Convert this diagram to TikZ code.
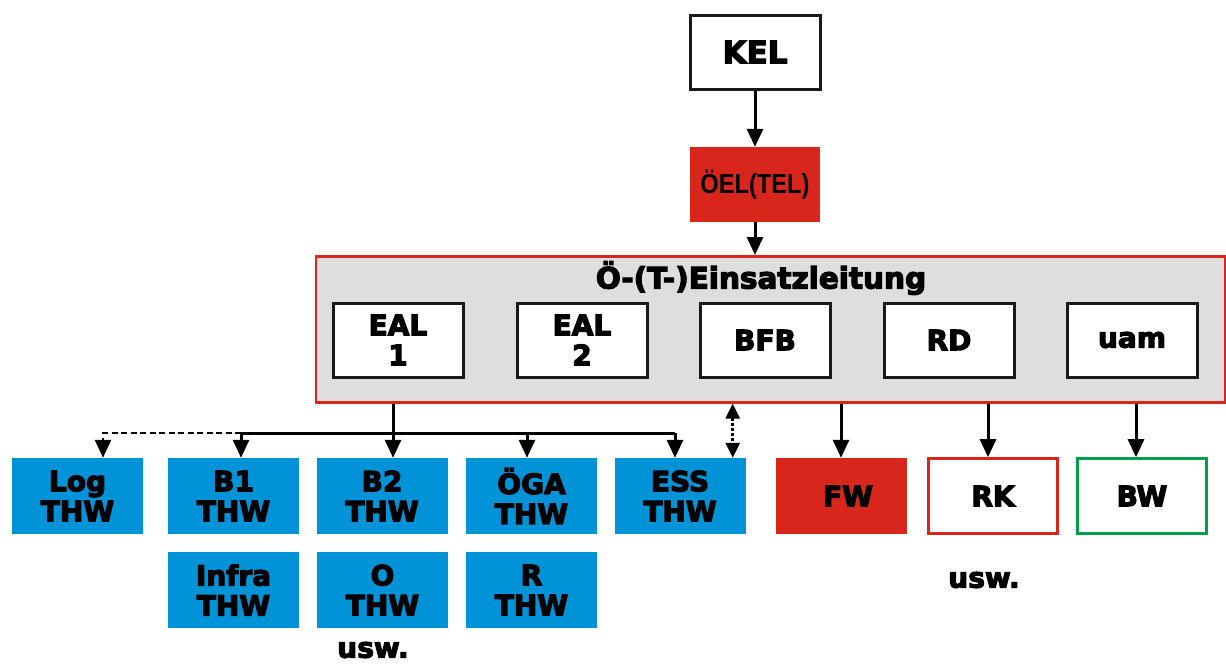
\documentclass[tikz,border=0pt]{standalone}
\usepackage{fontspec}
\setmainfont{Liberation Sans}
\newfontfamily\heavy{DejaVu Sans}[BoldFeatures={FakeBold=4}]
\newfontfamily\narrow{Liberation Sans}[BoldFeatures={FakeStretch=0.86}]
\usetikzlibrary{arrows.meta}

\definecolor{thwblue}{HTML}{0093D8}
\definecolor{alarmred}{HTML}{D9261C}
\definecolor{leitgray}{HTML}{DEDEDE}
\definecolor{bwgreen}{HTML}{00A04A}

\tikzset{
  label font/.style={font=\heavy\bfseries\fontsize{28}{30}\selectfont},
  unitbox/.style={draw=black!90, line width=3pt, fill=white, minimum width=130pt, minimum height=74pt, align=center, label font},
  thwbox/.style={fill=thwblue, minimum width=131pt, minimum height=76pt, align=center, label font},
  arr/.style={line width=3pt, -{Triangle[width=16pt,length=18pt]}},
  dotarr/.style={line width=2.6pt, {Triangle[width=14pt,length=15pt]}-{Triangle[width=14pt,length=15pt]}, dash pattern=on 2.6pt off 2.4pt},
}

\begin{document}
\begin{tikzpicture}[x=1pt,y=-1pt]
\useasboundingbox (0,0) rectangle (1226,664);

% top of the chain
\node[unitbox, font=\heavy\bfseries\fontsize{31}{34}\selectfont] (kel) at (755,52) {KEL};
\node[fill=alarmred, minimum width=130pt, minimum height=75pt, font=\narrow\bfseries\fontsize{27.5}{28}\selectfont] (oel) at (755,184.5) {ÖEL(TEL)};

% operations command frame
\node[draw=alarmred, fill=leitgray, line width=2.6pt, minimum width=909pt, minimum height=146pt, anchor=north west] (leit) at (314.5,255) {};
\node[font=\heavy\bfseries\fontsize{29.5}{30}\selectfont] (title) at (761,278) {Ö-(T-)Einsatzleitung};

\foreach \x/\n/\t in {398/eal1/EAL\\1, 582/eal2/EAL\\2, 765/bfb/BFB, 949/rd/RD, 1132/uam/uam}
  \node[unitbox] (\n) at (\x,340) {\t};

% THW units
\foreach \x/\n/\t in {77.5/log/Log\\THW, 233.5/bone/B1\\THW, 382/btwo/B2\\THW, 531.5/oega/ÖGA\\THW, 680/ess/ESS\\THW}
  \node[thwbox] (\n) at (\x,496) {\t};
\foreach \x/\n/\t in {233.5/infra/Infra\\THW, 382.5/othw/O\\THW, 531.5/rthw/R\\THW}
  \node[thwbox] (\n) at (\x,590) {\t};
\node[label font] (uswthw) at (373,650) {usw.};

% other services
\node[thwbox, fill=alarmred] (fw) at (841,496) {\hspace*{14pt}FW};
\node[unitbox, draw=alarmred, line width=2.6pt, minimum width=129pt, minimum height=75pt] (rk) at (993,496) {RK};
\node[unitbox, draw=bwgreen, line width=2.6pt, minimum width=129pt, minimum height=75pt] (bw) at (1142,496) {BW};
\node[label font] (uswrest) at (984,580) {usw.};

% connectors
\draw[arr] (kel) -- (oel);
\draw[arr] (oel.south) -- (oel.south |- leit.north);

\coordinate (hub) at (393,433);
\coordinate (tl) at (241,433);
\coordinate (tg) at (527,433);
\coordinate (tr) at (675,433);
\coordinate (td) at (103,433);
\draw[line width=3pt] (leit.south -| hub) -- (hub);
\draw[line width=3pt] (tl) -- (tr);
\draw[arr] (hub) -- (hub |- btwo.north);
\draw[arr] (tl) -- (tl |- bone.north);
\draw[arr] (tg) -- (tg |- oega.north);
\draw[arr] (tr) -- (tr |- ess.north);
\draw[arr, line width=2.6pt, dash pattern=on 6pt off 3.5pt] (tl) -- (td) -- (td |- log.north);
\draw[dotarr] ([xshift=-13pt]ess.north east |- leit.south) -- ([xshift=-13pt]ess.north east);

\draw[arr] (leit.south -| fw.north) -- (fw.north);
\draw[arr] ([xshift=-5pt]rk.north |- leit.south) -- ([xshift=-5pt]rk.north);
\draw[arr] ([xshift=-6pt]bw.north |- leit.south) -- ([xshift=-6pt]bw.north);
\end{tikzpicture}
\end{document}
